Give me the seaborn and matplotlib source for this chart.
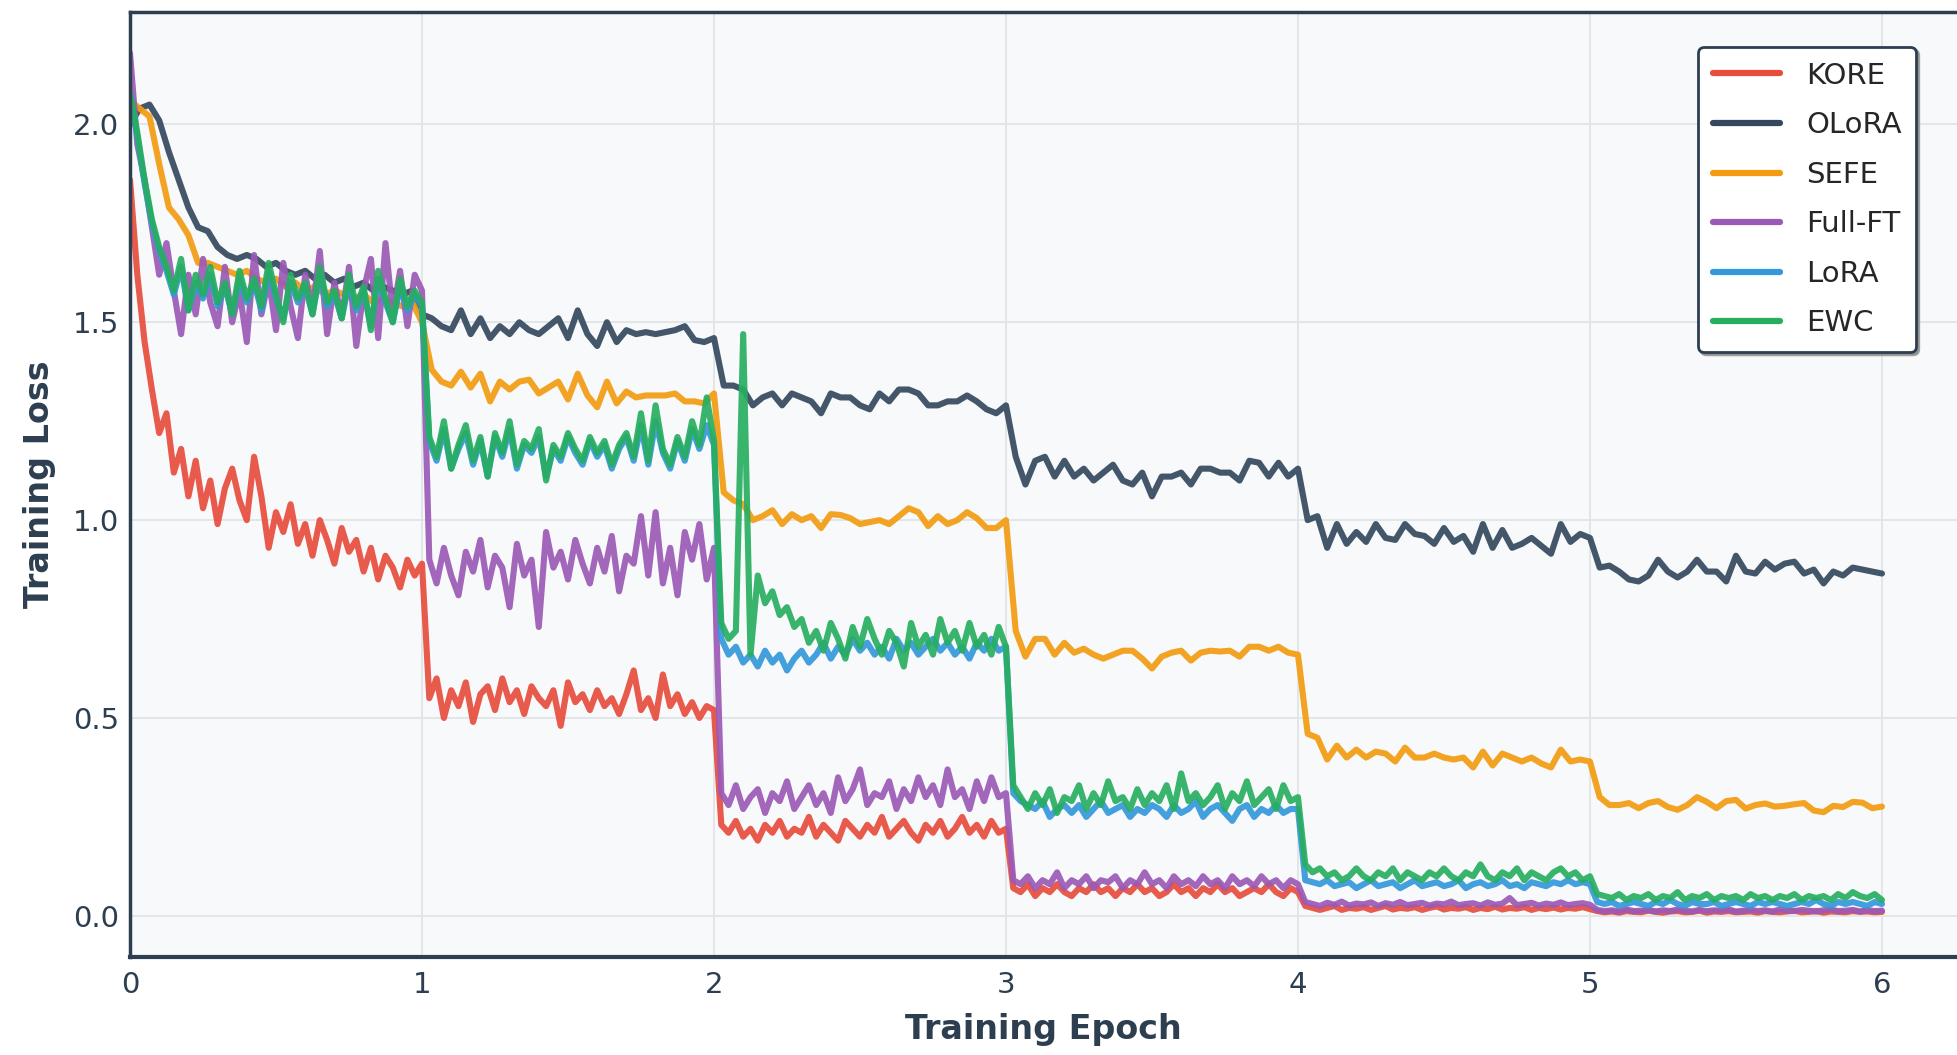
import numpy as np
import pandas as pd
import matplotlib
matplotlib.use("Agg")
import matplotlib.pyplot as plt
import seaborn as sns

METHODS = ["KORE", "OLoRA", "SEFE", "Full-FT", "LoRA", "EWC"]
COLORS = {"KORE": "#e74c3c", "OLoRA": "#34495e", "SEFE": "#f39c12",
          "Full-FT": "#9b59b6", "LoRA": "#3498db", "EWC": "#27ae60"}

# ---- data: values logged per epoch segment (dense series: 40 logs/epoch, smooth: 30 logs/epoch)
KORE_E0 = [1.86, 1.62, 1.45, 1.33, 1.22, 1.27, 1.12, 1.18, 1.06, 1.15, 1.03, 1.10, 0.99, 1.08, 1.13, 1.05,
           1.00, 1.16, 1.06, 0.93, 1.02, 0.97, 1.04, 0.94, 0.99, 0.91, 1.00, 0.95, 0.89, 0.98, 0.92, 0.95,
           0.87, 0.93, 0.85, 0.91, 0.88, 0.83, 0.90, 0.86, 0.89]
KORE_E1 = [0.55, 0.60, 0.50, 0.57, 0.53, 0.59, 0.49, 0.56, 0.58, 0.52, 0.60, 0.54, 0.57, 0.51, 0.58, 0.55,
           0.53, 0.57, 0.48, 0.59, 0.54, 0.56, 0.52, 0.57, 0.53, 0.55, 0.51, 0.56, 0.62, 0.52, 0.55, 0.50,
           0.61, 0.53, 0.56, 0.51, 0.54, 0.50, 0.53, 0.52]
KORE_E2 = [0.23, 0.21, 0.24, 0.20, 0.22, 0.19, 0.23, 0.21, 0.24, 0.20, 0.22, 0.21, 0.25, 0.20, 0.23, 0.21,
           0.19, 0.24, 0.22, 0.20, 0.23, 0.21, 0.25, 0.20, 0.22, 0.24, 0.21, 0.19, 0.23, 0.21, 0.24, 0.20,
           0.22, 0.25, 0.21, 0.23, 0.20, 0.24, 0.21, 0.22]
KORE_E3 = [0.07, 0.06, 0.08, 0.05, 0.07, 0.06, 0.08, 0.06, 0.05, 0.07, 0.06, 0.08, 0.06, 0.07, 0.05, 0.07,
           0.06, 0.08, 0.06, 0.07, 0.05, 0.06, 0.08, 0.06, 0.07, 0.05, 0.07, 0.06, 0.08, 0.06, 0.07, 0.05,
           0.06, 0.07, 0.06, 0.08, 0.06, 0.05, 0.07, 0.06]
KORE_E4 = [0.025, 0.02, 0.015, 0.02, 0.025, 0.015, 0.02, 0.018, 0.022, 0.015, 0.02, 0.025, 0.016, 0.02,
           0.018, 0.022, 0.015, 0.02, 0.024, 0.016, 0.02, 0.018, 0.022, 0.015, 0.02, 0.017, 0.023, 0.016,
           0.02, 0.018, 0.022, 0.015, 0.02, 0.017, 0.021, 0.016, 0.02, 0.018, 0.022, 0.017]
KORE_E5 = [0.012, 0.009, 0.011, 0.008, 0.012, 0.01, 0.009, 0.013, 0.01, 0.008, 0.011, 0.012, 0.009, 0.01,
           0.013, 0.008, 0.011, 0.01, 0.012, 0.009, 0.01, 0.011, 0.008, 0.012, 0.01, 0.009, 0.011, 0.013,
           0.009, 0.01, 0.012, 0.008, 0.011, 0.01, 0.009, 0.012, 0.01, 0.011, 0.009, 0.01]

OLORA_E0 = [2.00, 2.04, 2.05, 2.01, 1.93, 1.86, 1.79, 1.74, 1.73, 1.69, 1.67, 1.66, 1.67, 1.66, 1.64, 1.65,
            1.63, 1.62, 1.63, 1.61, 1.62, 1.60, 1.61, 1.59, 1.60, 1.58, 1.59, 1.58, 1.57, 1.58, 1.52]
OLORA_E1 = [1.51, 1.49, 1.48, 1.53, 1.47, 1.51, 1.46, 1.49, 1.47, 1.50, 1.48, 1.47, 1.49, 1.51, 1.46,
            1.53, 1.47, 1.44, 1.50, 1.45, 1.48, 1.47, 1.475, 1.47, 1.475, 1.48, 1.49, 1.455, 1.45, 1.46]
OLORA_E2 = [1.34, 1.34, 1.33, 1.29, 1.31, 1.32, 1.29, 1.32, 1.31, 1.30, 1.27, 1.32, 1.31, 1.31, 1.29,
            1.28, 1.32, 1.30, 1.33, 1.33, 1.32, 1.29, 1.29, 1.30, 1.30, 1.315, 1.30, 1.28, 1.27, 1.29]
OLORA_E3 = [1.16, 1.09, 1.15, 1.16, 1.11, 1.15, 1.11, 1.13, 1.10, 1.12, 1.14, 1.10, 1.09, 1.12, 1.06,
            1.11, 1.11, 1.12, 1.09, 1.13, 1.13, 1.12, 1.12, 1.10, 1.15, 1.145, 1.11, 1.145, 1.11, 1.13]
OLORA_E4 = [1.00, 1.01, 0.93, 0.99, 0.94, 0.97, 0.945, 0.99, 0.955, 0.95, 0.99, 0.965, 0.96, 0.94, 0.98,
            0.945, 0.96, 0.92, 0.99, 0.93, 0.975, 0.93, 0.94, 0.955, 0.935, 0.915, 0.99, 0.945, 0.965, 0.955]
OLORA_E5 = [0.88, 0.885, 0.87, 0.85, 0.845, 0.86, 0.90, 0.87, 0.855, 0.87, 0.90, 0.87, 0.87, 0.845, 0.91,
            0.87, 0.865, 0.895, 0.875, 0.89, 0.895, 0.865, 0.875, 0.84, 0.87, 0.86, 0.88, 0.875, 0.87, 0.865]

SEFE_E0 = [2.06, 2.04, 2.02, 1.90, 1.79, 1.76, 1.72, 1.65, 1.65, 1.64, 1.63, 1.62, 1.63, 1.61, 1.60, 1.61,
           1.59, 1.60, 1.58, 1.59, 1.57, 1.58, 1.57, 1.56, 1.57, 1.55, 1.56, 1.55, 1.54, 1.55, 1.50]
SEFE_E1 = [1.38, 1.35, 1.34, 1.375, 1.335, 1.37, 1.30, 1.35, 1.33, 1.35, 1.355, 1.32, 1.335, 1.35, 1.305,
           1.37, 1.315, 1.285, 1.35, 1.295, 1.325, 1.31, 1.315, 1.315, 1.315, 1.32, 1.30, 1.30, 1.295, 1.32]
SEFE_E2 = [1.07, 1.05, 1.04, 1.00, 1.01, 1.025, 0.99, 1.015, 1.00, 1.01, 0.98, 1.015, 1.013, 1.005, 0.99,
           0.995, 1.00, 0.99, 1.01, 1.03, 1.02, 0.985, 1.01, 0.99, 1.00, 1.02, 1.005, 0.98, 0.98, 1.00]
SEFE_E3 = [0.72, 0.655, 0.70, 0.70, 0.66, 0.69, 0.665, 0.675, 0.66, 0.65, 0.66, 0.67, 0.67, 0.65, 0.625,
           0.655, 0.665, 0.67, 0.645, 0.665, 0.67, 0.668, 0.67, 0.655, 0.68, 0.68, 0.67, 0.68, 0.665, 0.66]
SEFE_E4 = [0.46, 0.45, 0.395, 0.43, 0.40, 0.42, 0.40, 0.415, 0.41, 0.39, 0.425, 0.40, 0.40, 0.41, 0.40,
           0.395, 0.40, 0.375, 0.415, 0.38, 0.41, 0.40, 0.39, 0.40, 0.385, 0.375, 0.42, 0.39, 0.395, 0.39]
SEFE_E5 = [0.30, 0.28, 0.28, 0.285, 0.272, 0.285, 0.29, 0.275, 0.268, 0.28, 0.30, 0.288, 0.272, 0.29, 0.293,
           0.271, 0.28, 0.284, 0.276, 0.278, 0.282, 0.285, 0.266, 0.262, 0.278, 0.275, 0.288, 0.286, 0.272, 0.276]

FULLFT_E0 = [2.18, 1.95, 1.86, 1.74, 1.62, 1.70, 1.58, 1.47, 1.62, 1.52, 1.66, 1.55, 1.49, 1.64, 1.50, 1.58,
             1.45, 1.67, 1.52, 1.61, 1.48, 1.65, 1.54, 1.46, 1.62, 1.53, 1.68, 1.47, 1.60, 1.51, 1.64, 1.44,
             1.58, 1.66, 1.46, 1.70, 1.52, 1.63, 1.49, 1.62, 1.58]
FULLFT_E1 = [0.90, 0.84, 0.93, 0.86, 0.81, 0.92, 0.87, 0.95, 0.83, 0.91, 0.88, 0.78, 0.94, 0.86, 0.90, 0.73,
             0.97, 0.88, 0.92, 0.85, 0.95, 0.89, 0.84, 0.93, 0.87, 0.96, 0.82, 0.91, 0.89, 1.01, 0.86, 1.02,
             0.84, 0.93, 0.81, 0.97, 0.90, 0.99, 0.85, 0.93]
FULLFT_E2 = [0.31, 0.28, 0.33, 0.27, 0.30, 0.32, 0.26, 0.31, 0.29, 0.34, 0.27, 0.30, 0.33, 0.28, 0.31, 0.26,
             0.35, 0.29, 0.32, 0.37, 0.28, 0.31, 0.30, 0.34, 0.27, 0.32, 0.29, 0.35, 0.30, 0.33, 0.28, 0.37,
             0.30, 0.32, 0.27, 0.34, 0.29, 0.35, 0.30, 0.31]
FULLFT_E3 = [0.09, 0.08, 0.10, 0.07, 0.09, 0.08, 0.11, 0.07, 0.09, 0.08, 0.10, 0.07, 0.09, 0.085, 0.10, 0.07,
             0.09, 0.08, 0.11, 0.08, 0.09, 0.07, 0.10, 0.08, 0.09, 0.075, 0.10, 0.08, 0.09, 0.07, 0.10, 0.08,
             0.09, 0.075, 0.10, 0.08, 0.09, 0.07, 0.09, 0.08]
FULLFT_E4 = [0.035, 0.03, 0.025, 0.033, 0.028, 0.036, 0.026, 0.031, 0.029, 0.034, 0.025, 0.032, 0.028, 0.035,
             0.027, 0.03, 0.033, 0.026, 0.031, 0.029, 0.036, 0.027, 0.03, 0.032, 0.026, 0.034, 0.028, 0.031,
             0.045, 0.027, 0.03, 0.033, 0.026, 0.031, 0.028, 0.034, 0.027, 0.03, 0.032, 0.028]
FULLFT_E5 = [0.015, 0.012, 0.014, 0.011, 0.016, 0.012, 0.013, 0.015, 0.011, 0.014, 0.012, 0.016, 0.013, 0.011,
             0.015, 0.012, 0.014, 0.013, 0.016, 0.011, 0.013, 0.015, 0.012, 0.014, 0.011, 0.016, 0.013, 0.012,
             0.015, 0.013, 0.011, 0.014, 0.016, 0.012, 0.013, 0.015, 0.011, 0.014, 0.012, 0.013]

LORA_E0 = [2.07, 1.97, 1.85, 1.75, 1.68, 1.63, 1.57, 1.64, 1.53, 1.60, 1.56, 1.62, 1.54, 1.59, 1.52, 1.61,
           1.55, 1.60, 1.53, 1.63, 1.56, 1.51, 1.60, 1.55, 1.59, 1.52, 1.62, 1.54, 1.57, 1.51, 1.60, 1.53,
           1.58, 1.49, 1.61, 1.55, 1.50, 1.59, 1.53, 1.57, 1.54]
LORA_E1 = [1.20, 1.15, 1.23, 1.13, 1.18, 1.22, 1.14, 1.20, 1.11, 1.21, 1.16, 1.23, 1.13, 1.19, 1.17, 1.21,
           1.11, 1.18, 1.15, 1.21, 1.17, 1.14, 1.20, 1.16, 1.19, 1.13, 1.18, 1.21, 1.15, 1.24, 1.14, 1.25,
           1.17, 1.13, 1.20, 1.15, 1.23, 1.18, 1.24, 1.19]
LORA_E2 = [0.70, 0.66, 0.68, 0.64, 0.66, 0.63, 0.67, 0.64, 0.66, 0.62, 0.65, 0.67, 0.64, 0.66, 0.69, 0.65,
           0.68, 0.66, 0.70, 0.67, 0.69, 0.66, 0.68, 0.65, 0.70, 0.67, 0.69, 0.66, 0.68, 0.70, 0.67, 0.69,
           0.66, 0.68, 0.65, 0.69, 0.67, 0.70, 0.67, 0.68]
LORA_E3 = [0.31, 0.29, 0.28, 0.27, 0.29, 0.25, 0.27, 0.28, 0.26, 0.28, 0.25, 0.27, 0.29, 0.26, 0.27, 0.28,
           0.25, 0.27, 0.26, 0.28, 0.27, 0.25, 0.28, 0.26, 0.27, 0.29, 0.25, 0.27, 0.28, 0.26, 0.24, 0.27,
           0.28, 0.25, 0.27, 0.26, 0.28, 0.26, 0.27, 0.27]
LORA_E4 = [0.09, 0.085, 0.08, 0.09, 0.075, 0.08, 0.085, 0.07, 0.08, 0.09, 0.075, 0.08, 0.085, 0.07, 0.08,
           0.09, 0.075, 0.08, 0.085, 0.075, 0.08, 0.09, 0.07, 0.08, 0.085, 0.075, 0.08, 0.09, 0.075, 0.08,
           0.07, 0.085, 0.08, 0.075, 0.085, 0.08, 0.09, 0.08, 0.085, 0.08]
LORA_E5 = [0.035, 0.03, 0.035, 0.025, 0.03, 0.035, 0.03, 0.025, 0.035, 0.03, 0.04, 0.03, 0.025, 0.035, 0.03,
           0.03, 0.035, 0.025, 0.03, 0.035, 0.03, 0.025, 0.035, 0.03, 0.035, 0.03, 0.025, 0.03, 0.035, 0.03,
           0.04, 0.03, 0.025, 0.035, 0.03, 0.035, 0.03, 0.025, 0.035, 0.03]

EWC_E0 = [2.08, 1.98, 1.86, 1.76, 1.69, 1.64, 1.58, 1.66, 1.53, 1.62, 1.57, 1.64, 1.55, 1.60, 1.52, 1.63,
          1.56, 1.61, 1.54, 1.65, 1.57, 1.50, 1.62, 1.56, 1.60, 1.52, 1.64, 1.55, 1.58, 1.51, 1.62, 1.54,
          1.59, 1.48, 1.63, 1.56, 1.50, 1.61, 1.54, 1.58, 1.55]
EWC_E1 = [1.21, 1.16, 1.25, 1.13, 1.19, 1.24, 1.15, 1.21, 1.11, 1.22, 1.17, 1.25, 1.14, 1.20, 1.18, 1.23,
          1.10, 1.19, 1.16, 1.22, 1.18, 1.15, 1.21, 1.17, 1.20, 1.14, 1.19, 1.22, 1.16, 1.27, 1.15, 1.29,
          1.18, 1.14, 1.21, 1.16, 1.25, 1.19, 1.31, 1.20]
EWC_E2 = [0.74, 0.70, 0.72, 1.47, 0.66, 0.86, 0.79, 0.82, 0.76, 0.78, 0.73, 0.75, 0.69, 0.72, 0.67, 0.74,
          0.70, 0.65, 0.73, 0.68, 0.75, 0.70, 0.66, 0.72, 0.69, 0.63, 0.74, 0.68, 0.71, 0.66, 0.75, 0.69,
          0.72, 0.67, 0.74, 0.68, 0.71, 0.66, 0.73, 0.68]
EWC_E3 = [0.33, 0.30, 0.27, 0.31, 0.28, 0.32, 0.26, 0.30, 0.29, 0.33, 0.27, 0.31, 0.28, 0.34, 0.29, 0.30,
          0.27, 0.32, 0.28, 0.31, 0.29, 0.33, 0.27, 0.36, 0.29, 0.31, 0.28, 0.30, 0.33, 0.27, 0.31, 0.29,
          0.34, 0.28, 0.30, 0.32, 0.27, 0.33, 0.29, 0.30]
EWC_E4 = [0.13, 0.11, 0.12, 0.10, 0.11, 0.09, 0.10, 0.12, 0.10, 0.09, 0.11, 0.10, 0.12, 0.09, 0.11, 0.10,
          0.09, 0.11, 0.10, 0.12, 0.10, 0.09, 0.11, 0.10, 0.13, 0.10, 0.09, 0.11, 0.10, 0.12, 0.09, 0.11,
          0.10, 0.09, 0.11, 0.12, 0.10, 0.11, 0.09, 0.10]
EWC_E5 = [0.055, 0.05, 0.045, 0.055, 0.04, 0.05, 0.045, 0.055, 0.04, 0.05, 0.045, 0.06, 0.04, 0.05, 0.045,
          0.055, 0.04, 0.05, 0.045, 0.05, 0.04, 0.055, 0.045, 0.05, 0.04, 0.05, 0.045, 0.055, 0.04, 0.05,
          0.045, 0.05, 0.04, 0.055, 0.045, 0.06, 0.05, 0.045, 0.055, 0.04]

SERIES = {
    "KORE": (40, [KORE_E0, KORE_E1, KORE_E2, KORE_E3, KORE_E4, KORE_E5]),
    "OLoRA": (30, [OLORA_E0, OLORA_E1, OLORA_E2, OLORA_E3, OLORA_E4, OLORA_E5]),
    "SEFE": (30, [SEFE_E0, SEFE_E1, SEFE_E2, SEFE_E3, SEFE_E4, SEFE_E5]),
    "Full-FT": (40, [FULLFT_E0, FULLFT_E1, FULLFT_E2, FULLFT_E3, FULLFT_E4, FULLFT_E5]),
    "LoRA": (40, [LORA_E0, LORA_E1, LORA_E2, LORA_E3, LORA_E4, LORA_E5]),
    "EWC": (40, [EWC_E0, EWC_E1, EWC_E2, EWC_E3, EWC_E4, EWC_E5]),
}
X_TICKS = [0, 1, 2, 3, 4, 5, 6]
Y_TICKS = [0.0, 0.5, 1.0, 1.5, 2.0]

rows = []
for m in METHODS:
    per_epoch, segs = SERIES[m]
    vals = [v for s in segs for v in s]
    for i, v in enumerate(vals):
        rows.append((m, i / per_epoch, v))
df = pd.DataFrame(rows, columns=["method", "epoch", "loss"])

sns.set_theme(style="whitegrid")
plt.rcParams["font.family"] = ["DejaVu Sans"]
DARK = "#2c3e50"

fig = plt.figure(figsize=(19.57, 10.55), dpi=100)
ax = fig.add_axes([130 / 1957, 1 - 957 / 1055, 1 - 130 / 1957, (957 - 12) / 1055])
ax.set_facecolor("#f8f9fa")

sns.lineplot(data=df, x="epoch", y="loss", hue="method", hue_order=METHODS,
             palette=COLORS, estimator=None, sort=False, linewidth=4.4, alpha=0.92,
             legend=False, ax=ax)

ax.set_xlim(0, 6.257)
ax.set_ylim(-0.104, 2.284)
ax.set_xticks(X_TICKS)
ax.set_yticks(Y_TICKS)
ax.set_yticklabels([f"{t:.1f}" for t in Y_TICKS])
ax.grid(True, color="#e3e6e8", linewidth=1.4)
ax.set_axisbelow(True)

for side in ["left", "bottom", "top"]:
    ax.spines[side].set_visible(True)
    ax.spines[side].set_color(DARK)
ax.spines["left"].set_linewidth(2.5)
ax.spines["bottom"].set_linewidth(3.0)
ax.spines["top"].set_linewidth(2.5)
ax.spines["right"].set_visible(False)

ax.tick_params(axis="both", direction="in", length=12, width=2, color=DARK,
               labelsize=21, labelcolor=DARK)
ax.tick_params(axis="x", pad=10)
ax.tick_params(axis="y", pad=8)

ax.set_xlabel("Training Epoch", fontsize=24, fontweight="bold", color=DARK, labelpad=10)
ax.set_ylabel("Training Loss", fontsize=24, fontweight="bold", color=DARK, labelpad=12)

leg = ax.legend(handles=ax.lines[:6], labels=METHODS, loc="upper right",
                bbox_to_anchor=(1916 / 1957, 1 - 47 / 1055), bbox_transform=fig.transFigure,
                borderaxespad=0, fontsize=21, handlelength=2.3, labelspacing=0.74,
                handletextpad=0.9, borderpad=0.5, frameon=True, fancybox=True,
                shadow={"color": "#8a8a8a", "alpha": 0.8}, framealpha=1.0)
leg.get_frame().set_edgecolor(DARK)
leg.get_frame().set_linewidth(2.0)
leg.get_frame().set_facecolor("white")
for line in leg.get_lines():
    line.set_linewidth(4.5)
    line.set_alpha(1)

fig.savefig("out.png", dpi=100, facecolor="white")
